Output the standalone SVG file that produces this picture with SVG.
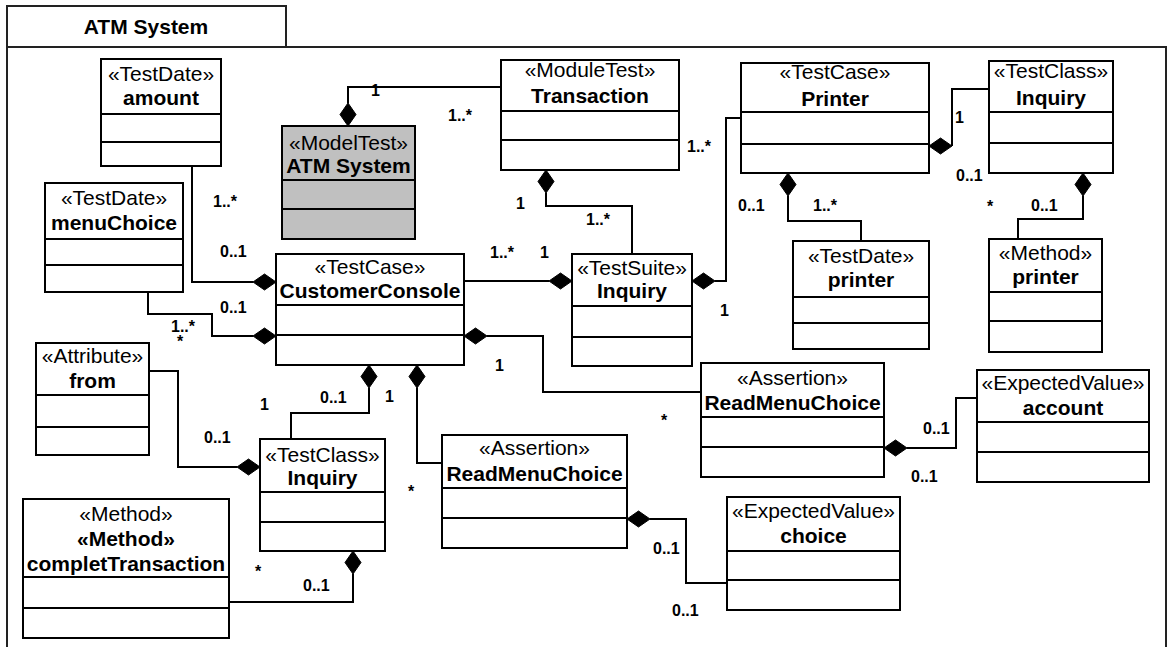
<svg xmlns="http://www.w3.org/2000/svg" width="1169" height="647" viewBox="0 0 1169 647">
<style>
.frame{fill:#fff;stroke:#222;stroke-width:2}
.box{fill:#fff;stroke:#000;stroke-width:2}
.gray{fill:#c0c0c0;stroke:#000;stroke-width:2}
.div{stroke:#000;stroke-width:2}
.st{font-family:"Liberation Sans",Arial,sans-serif;font-size:21px;text-anchor:middle;fill:#000}
.nm{font-family:"Liberation Sans",Arial,sans-serif;font-size:21px;font-weight:bold;text-anchor:middle;fill:#000}
.ml{font-family:"Liberation Sans",Arial,sans-serif;font-size:16px;font-weight:bold;fill:#000}
.ln{fill:none;stroke:#000;stroke-width:2}
.dm{fill:#000;stroke:#000;stroke-width:1}
</style>
<rect x="0" y="0" width="1169" height="647" fill="#fff"/>
<g id="frame">
<rect class="frame" x="7" y="47" width="1159" height="612"/>
<rect class="frame" x="7" y="6" width="279" height="41"/>
<text class="nm" x="146" y="34">ATM System</text>
</g>
<g id="connectors">
<path class="ln" d="M348,103 V87 H501"/>
<polygon class="dm" points="348,126 356,114.5 348,103 340,114.5"/>
<path class="ln" d="M192,166 V282 H253"/>
<polygon class="dm" points="276,282 264.5,274 253,282 264.5,290"/>
<path class="ln" d="M148,292 V314 H212 V336 H253"/>
<polygon class="dm" points="276,336 264.5,328 253,336 264.5,344"/>
<path class="ln" d="M464,281 H549"/>
<polygon class="dm" points="572,281 560.5,273 549,281 560.5,289"/>
<path class="ln" d="M546,193 V206 H632 V254"/>
<polygon class="dm" points="546,170 554,181.5 546,193 538,181.5"/>
<path class="ln" d="M715,281 H726 V118 H741"/>
<polygon class="dm" points="692,281 703.5,273 715,281 703.5,289"/>
<path class="ln" d="M952,146 V89 H989"/>
<polygon class="dm" points="929,146 940.5,138 952,146 940.5,154"/>
<path class="ln" d="M788,196 V221 H861 V241"/>
<polygon class="dm" points="788,173 796,184.5 788,196 780,184.5"/>
<path class="ln" d="M1083,196 V219 H1018 V239"/>
<polygon class="dm" points="1083,173 1091,184.5 1083,196 1075,184.5"/>
<path class="ln" d="M487,336 H543 V392 H701"/>
<polygon class="dm" points="464,336 475.5,328 487,336 475.5,344"/>
<path class="ln" d="M369,388 V413 H291 V439"/>
<polygon class="dm" points="369,365 377,376.5 369,388 361,376.5"/>
<path class="ln" d="M417,388 V463 H442"/>
<polygon class="dm" points="417,365 425,376.5 417,388 409,376.5"/>
<path class="ln" d="M149,371 H178 V467 H237"/>
<polygon class="dm" points="260,467 248.5,459 237,467 248.5,475"/>
<path class="ln" d="M353,574 V602 H229"/>
<polygon class="dm" points="353,551 361,562.5 353,574 345,562.5"/>
<path class="ln" d="M650,519 H686 V583 H727"/>
<polygon class="dm" points="627,519 638.5,511 650,519 638.5,527"/>
<path class="ln" d="M907,448 H956 V398 H977"/>
<polygon class="dm" points="884,448 895.5,440 907,448 895.5,456"/>
<text class="ml" x="371" y="96">1</text>
<text class="ml" x="448" y="121">1..*</text>
<text class="ml" x="213" y="207">1..*</text>
<text class="ml" x="220" y="257">0..1</text>
<text class="ml" x="220" y="313">0..1</text>
<text class="ml" x="171" y="332">1..*</text>
<text class="ml" x="177" y="347">*</text>
<text class="ml" x="490" y="258">1..*</text>
<text class="ml" x="540" y="258">1</text>
<text class="ml" x="516" y="209">1</text>
<text class="ml" x="586" y="225">1..*</text>
<text class="ml" x="687" y="152">1..*</text>
<text class="ml" x="720" y="316">1</text>
<text class="ml" x="955" y="123">1</text>
<text class="ml" x="956" y="181">0..1</text>
<text class="ml" x="738" y="211">0..1</text>
<text class="ml" x="813" y="211">1..*</text>
<text class="ml" x="987" y="212">*</text>
<text class="ml" x="1031" y="211">0..1</text>
<text class="ml" x="495" y="371">1</text>
<text class="ml" x="661" y="426">*</text>
<text class="ml" x="320" y="403">0..1</text>
<text class="ml" x="260" y="410">1</text>
<text class="ml" x="385" y="402">1</text>
<text class="ml" x="408" y="497">*</text>
<text class="ml" x="204" y="443">0..1</text>
<text class="ml" x="255" y="577">*</text>
<text class="ml" x="303" y="591">0..1</text>
<text class="ml" x="653" y="554">0..1</text>
<text class="ml" x="672" y="616">0..1</text>
<text class="ml" x="923" y="434">0..1</text>
<text class="ml" x="911" y="482">0..1</text>
</g>
<g id="amount">
<rect class="box" x="101" y="59" width="120" height="107"/>
<line class="div" x1="101" y1="114" x2="221" y2="114"/>
<line class="div" x1="101" y1="142" x2="221" y2="142"/>
<text class="st" x="161" y="81">«TestDate»</text>
<text class="nm" x="161" y="105">amount</text>
</g>
<g id="menuChoice">
<rect class="box" x="45" y="183" width="138" height="109"/>
<line class="div" x1="45" y1="239" x2="183" y2="239"/>
<line class="div" x1="45" y1="265" x2="183" y2="265"/>
<text class="st" x="114" y="205">«TestDate»</text>
<text class="nm" x="114" y="230">menuChoice</text>
</g>
<g id="atmSystem">
<rect class="gray" x="282" y="126" width="133" height="113"/>
<line class="div" x1="282" y1="180" x2="415" y2="180"/>
<line class="div" x1="282" y1="209" x2="415" y2="209"/>
<text class="st" x="348.5" y="150">«ModelTest»</text>
<text class="nm" x="348.5" y="173">ATM System</text>
</g>
<g id="transaction">
<rect class="box" x="501" y="60" width="178" height="110"/>
<line class="div" x1="501" y1="111" x2="679" y2="111"/>
<line class="div" x1="501" y1="140" x2="679" y2="140"/>
<text class="st" x="590" y="77">«ModuleTest»</text>
<text class="nm" x="590" y="103">Transaction</text>
</g>
<g id="printerCase">
<rect class="box" x="741" y="63" width="188" height="110"/>
<line class="div" x1="741" y1="112" x2="929" y2="112"/>
<line class="div" x1="741" y1="144" x2="929" y2="144"/>
<text class="st" x="835" y="79">«TestCase»</text>
<text class="nm" x="835" y="106">Printer</text>
</g>
<g id="inquiryClassTop">
<rect class="box" x="989" y="61" width="124" height="112"/>
<line class="div" x1="989" y1="112" x2="1113" y2="112"/>
<line class="div" x1="989" y1="143" x2="1113" y2="143"/>
<text class="st" x="1051" y="78">«TestClass»</text>
<text class="nm" x="1051" y="105">Inquiry</text>
</g>
<g id="printerDate">
<rect class="box" x="793" y="241" width="136" height="108"/>
<line class="div" x1="793" y1="297" x2="929" y2="297"/>
<line class="div" x1="793" y1="323" x2="929" y2="323"/>
<text class="st" x="861" y="263">«TestDate»</text>
<text class="nm" x="861" y="287">printer</text>
</g>
<g id="printerMethod">
<rect class="box" x="989" y="239" width="113" height="113"/>
<line class="div" x1="989" y1="292" x2="1102" y2="292"/>
<line class="div" x1="989" y1="321" x2="1102" y2="321"/>
<text class="st" x="1045.5" y="260">«Method»</text>
<text class="nm" x="1045.5" y="284">printer</text>
</g>
<g id="customerConsole">
<rect class="box" x="276" y="254" width="188" height="111"/>
<line class="div" x1="276" y1="305" x2="464" y2="305"/>
<line class="div" x1="276" y1="335" x2="464" y2="335"/>
<text class="st" x="370" y="274">«TestCase»</text>
<text class="nm" x="370" y="298">CustomerConsole</text>
</g>
<g id="inquirySuite">
<rect class="box" x="572" y="254" width="120" height="112"/>
<line class="div" x1="572" y1="306" x2="692" y2="306"/>
<line class="div" x1="572" y1="337" x2="692" y2="337"/>
<text class="st" x="632" y="275">«TestSuite»</text>
<text class="nm" x="632" y="298">Inquiry</text>
</g>
<g id="readMenuChoiceRight">
<rect class="box" x="701" y="363" width="183" height="114"/>
<line class="div" x1="701" y1="417" x2="884" y2="417"/>
<line class="div" x1="701" y1="447" x2="884" y2="447"/>
<text class="st" x="792.5" y="385">«Assertion»</text>
<text class="nm" x="792.5" y="410">ReadMenuChoice</text>
</g>
<g id="account">
<rect class="box" x="977" y="370" width="172" height="112"/>
<line class="div" x1="977" y1="422" x2="1149" y2="422"/>
<line class="div" x1="977" y1="452" x2="1149" y2="452"/>
<text class="st" x="1063" y="390">«ExpectedValue»</text>
<text class="nm" x="1063" y="415">account</text>
</g>
<g id="from">
<rect class="box" x="36" y="343" width="113" height="112"/>
<line class="div" x1="36" y1="395" x2="149" y2="395"/>
<line class="div" x1="36" y1="427" x2="149" y2="427"/>
<text class="st" x="92.5" y="363">«Attribute»</text>
<text class="nm" x="92.5" y="388">from</text>
</g>
<g id="inquiryClassBottom">
<rect class="box" x="260" y="439" width="125" height="112"/>
<line class="div" x1="260" y1="492" x2="385" y2="492"/>
<line class="div" x1="260" y1="522" x2="385" y2="522"/>
<text class="st" x="322.5" y="462">«TestClass»</text>
<text class="nm" x="322.5" y="485">Inquiry</text>
</g>
<g id="completTransaction">
<rect class="box" x="23" y="499" width="206" height="139"/>
<line class="div" x1="23" y1="577" x2="229" y2="577"/>
<line class="div" x1="23" y1="608" x2="229" y2="608"/>
<text class="st" x="126" y="521">«Method»</text>
<text class="nm" x="126" y="546">«Method»</text>
<text class="nm" x="126" y="571">completTransaction</text>
</g>
<g id="readMenuChoiceBottom">
<rect class="box" x="442" y="435" width="185" height="113"/>
<line class="div" x1="442" y1="488" x2="627" y2="488"/>
<line class="div" x1="442" y1="518" x2="627" y2="518"/>
<text class="st" x="534.5" y="455">«Assertion»</text>
<text class="nm" x="534.5" y="481">ReadMenuChoice</text>
</g>
<g id="choice">
<rect class="box" x="727" y="497" width="173" height="113"/>
<line class="div" x1="727" y1="551" x2="900" y2="551"/>
<line class="div" x1="727" y1="580" x2="900" y2="580"/>
<text class="st" x="813.5" y="518">«ExpectedValue»</text>
<text class="nm" x="813.5" y="543">choice</text>
</g>
</svg>
